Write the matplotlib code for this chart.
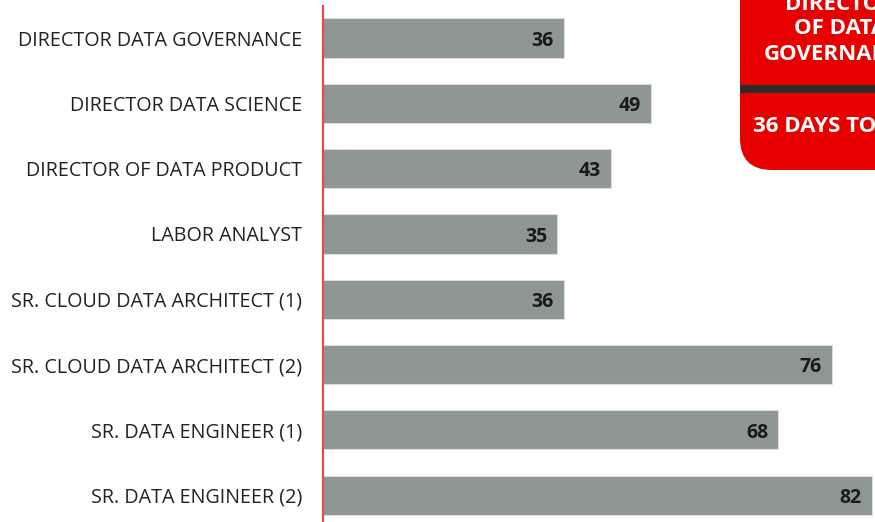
import matplotlib.pyplot as plt
from matplotlib.patches import FancyBboxPatch, Rectangle
from matplotlib.transforms import IdentityTransform

roles = ['DIRECTOR DATA GOVERNANCE', 'DIRECTOR DATA SCIENCE', 'DIRECTOR OF DATA PRODUCT',
         'LABOR ANALYST', 'SR. CLOUD DATA ARCHITECT (1)', 'SR. CLOUD DATA ARCHITECT (2)',
         'SR. DATA ENGINEER (1)', 'SR. DATA ENGINEER (2)']
days = [36, 49, 43, 35, 36, 76, 68, 82]

plt.rcParams['font.family'] = ['Open Sans', 'DejaVu Sans']

fig = plt.figure(figsize=(8.75, 5.22), dpi=100)
ax = fig.add_axes([323 / 875, 0, 1 - 323 / 875, 516 / 522])

pos = list(range(len(roles)))
ax.barh(pos, days, height=0.6, color='#8f9696', edgecolor='#d9dddd', linewidth=0.8)
for p, d in zip(pos, days):
    ax.text(d - 1.5, p + 0.04, str(d), ha='right', va='center', fontsize=14,
            fontweight='bold', color='#1a1a1a')

ax.set_xlim(0, 82.45)
ax.set_ylim(7.41, -0.49)
ax.set_yticks(pos)
ax.set_yticklabels(roles, fontsize=14.2, color='#222222')
ax.tick_params(axis='y', length=0, pad=15)
ax.set_xticks([])
for s in ['top', 'right', 'bottom']:
    ax.spines[s].set_visible(False)
ax.spines['left'].set_color('#e84a40')
ax.spines['left'].set_linewidth(1.5)

# red callout box, partly off the canvas
box = FancyBboxPatch((740, 352), 300, 300, boxstyle='round,pad=0,rounding_size=32',
                     facecolor='#e60000', edgecolor='none', transform=IdentityTransform())
fig.add_artist(box)
sep = Rectangle((740, 522 - 93), 300, 8, facecolor='#2b2b2b', edgecolor='none',
                transform=IdentityTransform())
fig.add_artist(sep)
fig.text(840 / 875, (522 - 29) / 522, 'DIRECTOR\nOF DATA\nGOVERNANCE', ha='center', va='center',
         fontsize=16, fontweight='bold', color='white', linespacing=1.25)
fig.text(840 / 875, (522 - 127) / 522, '36 DAYS TO FILL', ha='center', va='center',
         fontsize=16, fontweight='bold', color='white')

fig.savefig('out.png', dpi=100)
